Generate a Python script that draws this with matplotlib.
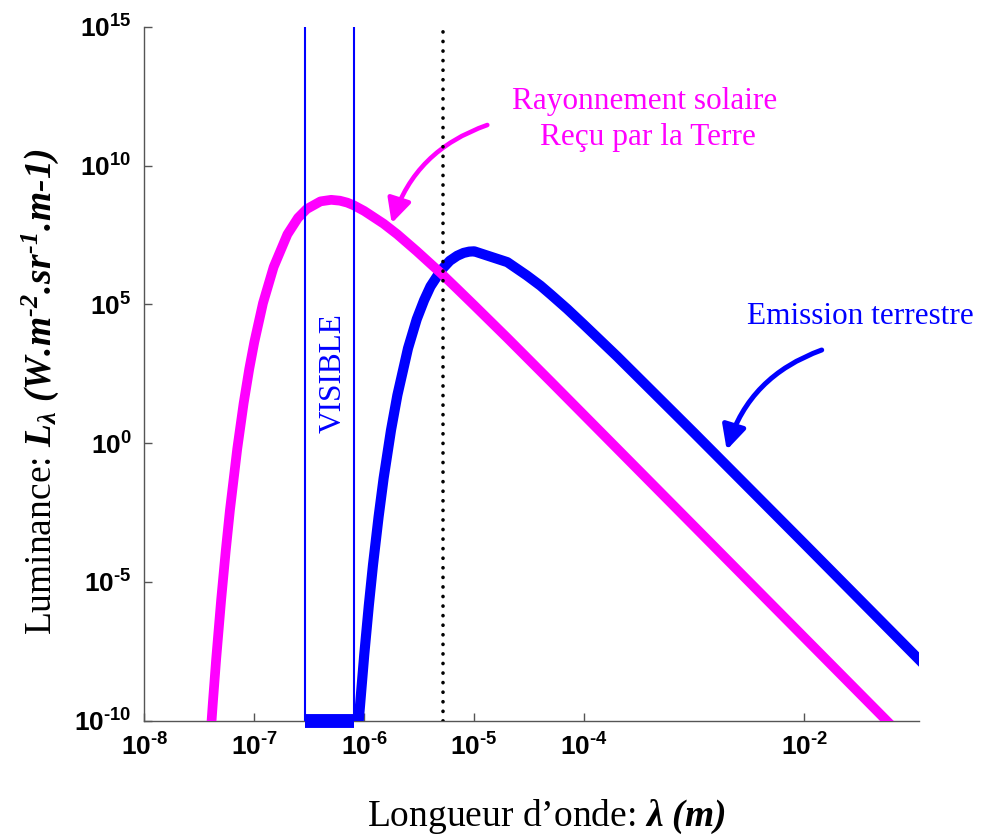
import numpy as np
import matplotlib
matplotlib.use("Agg")
import matplotlib.pyplot as plt
from matplotlib import font_manager as fm
from matplotlib.ticker import FixedLocator, FuncFormatter, NullLocator

# ---------------- data ----------------
sun_wavelength_m = [4.0e-8, 4.2e-8, 4.5e-8, 5.0e-8, 5.5e-8, 6.0e-8, 7.0e-8, 8.0e-8,
                    9.0e-8, 1.0e-7, 1.2e-7, 1.5e-7, 2.0e-7, 2.5e-7, 3.0e-7, 4.0e-7,
                    5.0e-7, 6.0e-7, 7.0e-7, 8.0e-7, 1.0e-6, 1.5e-6, 2.0e-6, 3.0e-6,
                    5.0e-6, 7.0e-6, 1.0e-5, 2.0e-5, 5.0e-5, 1.0e-4, 1.0e-3, 1.0e-2, 1.0e-1]
sun_luminance = [2.9e-11, 4.4e-10, 1.6e-8, 2.3e-6, 1.3e-4, 3.7e-3, 0.62, 27.0,
                 470.0, 4.3e3, 1.1e5, 2.2e6, 3.3e7, 1.3e8, 2.7e8, 5.1e8,
                 5.8e8, 5.4e8, 4.6e8, 3.7e8, 2.3e8, 8.0e7, 3.3e7, 8.2e6,
                 1.3e6, 3.6e5, 9.1e4, 6.1e3, 160.0, 10.0, 1.0e-3, 1.0e-7, 1.0e-11]

earth_wavelength_m = [8.5e-7, 9.0e-7, 1.0e-6, 1.1e-6, 1.2e-6, 1.35e-6, 1.5e-6, 1.75e-6,
                      2.0e-6, 2.5e-6, 3.0e-6, 3.5e-6, 4.0e-6, 5.0e-6, 6.0e-6, 7.0e-6,
                      8.0e-6, 9.0e-6, 1.0e-5, 2.0e-5, 3.0e-5, 4.0e-5, 5.0e-5, 7.0e-5,
                      1.0e-4, 2.0e-4, 1.0e-3, 1.0e-2, 1.0e-1, 2.0e-1]
earth_luminance = [8.0e-12, 1.6e-10, 2.4e-8, 1.4e-6, 4.0e-5, 2.2e-3, 5.4e-2, 2.9,
                   53.0, 2.6e3, 2.9e4, 1.4e5, 4.4e5, 1.7e6, 3.7e6, 5.6e6,
                   7.1e6, 7.9e6, 8.1e6, 3.3e6, 1.1e6, 4.7e5, 2.2e5, 6.8e4,
                   1.8e4, 1.3e3, 2.3, 2.4e-4, 2.4e-8, 1.5e-9]

visible_band_m = [2.9e-7, 8.0e-7]
crossover_wavelength_m = 5.2e-6

x_ticks = [1e-8, 1e-7, 1e-6, 1e-5, 1e-4, 1e-2]
y_ticks = [1e-10, 1e-5, 1e0, 1e5, 1e10, 1e15]
x_limits = (1e-8, 1.1e-1)
y_limits = (1e-10, 1e15)

sun_label = ["Rayonnement solaire", "Reçu par la Terre"]
earth_label = "Emission terrestre"
visible_label = "VISIBLE"

# ---------------- fonts ----------------
names = {f.name for f in fm.fontManager.ttflist}
tick_font = "Liberation Sans Narrow" if "Liberation Sans Narrow" in names else "Liberation Sans"
tick_size = 21 if tick_font == "Liberation Sans Narrow" else 19

plt.rcParams.update({
    "mathtext.fontset": "custom",
    "mathtext.rm": "Liberation Serif",
    "mathtext.it": "Liberation Serif:italic",
    "mathtext.bf": "Liberation Serif:bold",
    "mathtext.sf": tick_font + ":bold",
})
has_bfit = True
try:
    plt.rcParams["mathtext.bfit"] = "Liberation Serif:italic:bold"
except KeyError:
    has_bfit = False
plt.rcParams["font.family"] = ["Liberation Serif", "DejaVu Serif"]

BLUE = "#0000FF"
MAGENTA = "#FF00FF"
W, H = 982.0, 840.0
HY = "\u2010"  # short hyphen used in the exponents


def px(x, y):
    return (x / W, 1 - y / H)


fig = plt.figure(figsize=(9.82, 8.4), dpi=100)
ax_left, ax_right, ax_top, ax_bottom = 144.3, 918.7, 26.7, 720.7
ax = fig.add_axes([ax_left / W, 1 - ax_bottom / H, (ax_right - ax_left) / W,
                   (ax_bottom - ax_top) / H])
ax.set_xscale("log")
ax.set_yscale("log")
ax.set_xlim(*x_limits)
ax.set_ylim(*y_limits)

ax.plot(earth_wavelength_m, earth_luminance, color=BLUE, lw=7.3,
        solid_joinstyle="round", zorder=3)
ax.plot(sun_wavelength_m, sun_luminance, color=MAGENTA, lw=7,
        solid_joinstyle="round", zorder=4)

for v in visible_band_m:
    ax.plot([v, v], list(y_limits), color=BLUE, lw=1.5, zorder=5)
ax.plot(visible_band_m, [y_limits[0], y_limits[0]], color=BLUE, lw=10,
        solid_capstyle="butt", clip_on=False, zorder=5)

ax.plot([crossover_wavelength_m, crossover_wavelength_m], [y_limits[0], y_limits[1] * 0.75],
        color="black", lw=2.6, linestyle=(0, (0.05, 2.6)), dash_capstyle="round", zorder=6)

# axes styling
for s in ("top", "right"):
    ax.spines[s].set_visible(False)
for s in ("left", "bottom"):
    ax.spines[s].set_color("#555555")
    ax.spines[s].set_linewidth(1.0)


def tick_fmt(v, pos):
    e = int(round(np.log10(v)))
    exp = (HY + str(-e)) if e < 0 else str(e)
    return r"$\mathsf{10^{%s}}$" % exp


ax.xaxis.set_major_locator(FixedLocator(x_ticks))
ax.yaxis.set_major_locator(FixedLocator(y_ticks))
ax.xaxis.set_minor_locator(NullLocator())
ax.yaxis.set_minor_locator(NullLocator())
ax.xaxis.set_major_formatter(FuncFormatter(tick_fmt))
ax.yaxis.set_major_formatter(FuncFormatter(tick_fmt))
ax.tick_params(axis="both", which="major", direction="in", length=6, width=1,
               color="#555555", labelsize=tick_size)
ax.tick_params(axis="x", pad=9)
ax.tick_params(axis="y", pad=9)

# axis labels
bf = r"\mathbfit" if has_bfit else r"\mathbf"
fig.text(*px(546.5, 826), r"Longueur d’onde: $%s{\lambda\ (m)}$" % bf,
         ha="center", va="baseline", fontsize=27, family="Liberation Serif")
ylab = (r"Luminance: $%s{L_{\lambda}\ (W.\!m^{%s2}.\!sr^{%s1}.\!m%s1)}$"
        % (bf, HY, HY, HY))
fig.text(*px(40, 392), ylab, ha="center", va="center", rotation=90,
         fontsize=27, family="Liberation Serif")

# annotations
fig.text(*px(645, 101), sun_label[0], color=MAGENTA, ha="center", va="center",
         fontsize=22.5, family="Liberation Serif")
fig.text(*px(648, 138), sun_label[1], color=MAGENTA, ha="center", va="center",
         fontsize=22.5, family="Liberation Serif")
fig.text(*px(860, 317), earth_label, color=BLUE, ha="center", va="center",
         fontsize=22.5, family="Liberation Serif")
fig.text(*px(333, 373), visible_label, color=BLUE, ha="center", va="center",
         rotation=90, fontsize=22.5, family="Liberation Serif")

ax.annotate("", xy=(391.7, H - 223.3), xycoords="figure pixels",
            xytext=(487.3, H - 125.0), textcoords="figure pixels",
            arrowprops=dict(arrowstyle="-|>,head_length=0.6,head_width=0.3",
                            connectionstyle="arc3,rad=0.25", lw=3.3, color=MAGENTA,
                            mutation_scale=24, shrinkA=0, shrinkB=0))
ax.annotate("", xy=(726.7, H - 450.0), xycoords="figure pixels",
            xytext=(821.7, H - 350.0), textcoords="figure pixels",
            arrowprops=dict(arrowstyle="-|>,head_length=0.6,head_width=0.3",
                            connectionstyle="arc3,rad=0.25", lw=3.6, color=BLUE,
                            mutation_scale=24, shrinkA=0, shrinkB=0))

fig.savefig("out.png", dpi=100)
